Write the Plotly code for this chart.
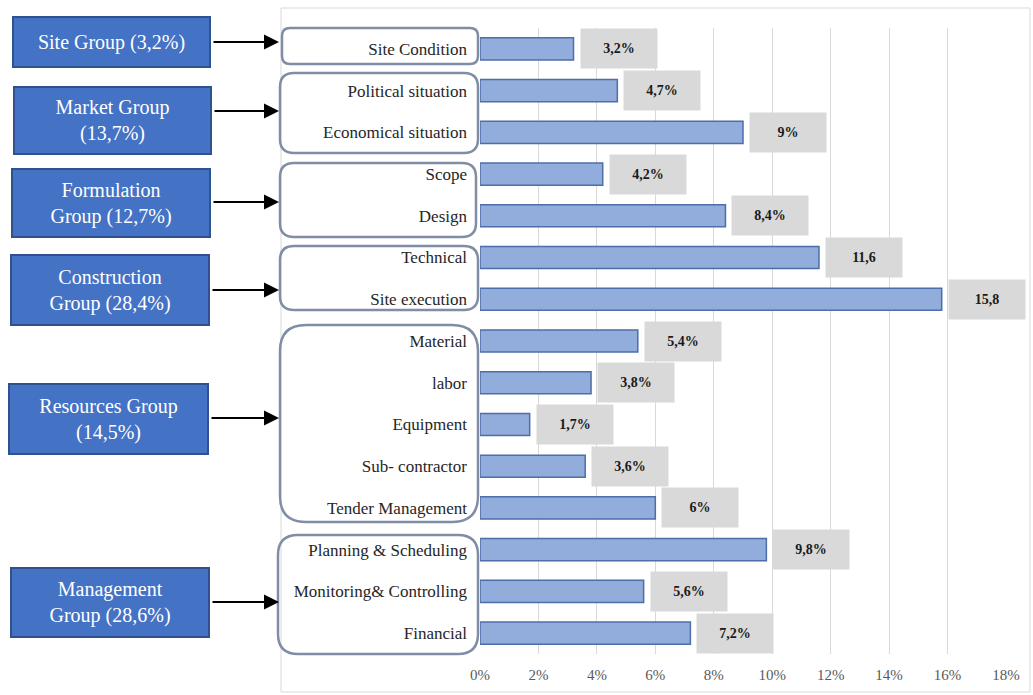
import plotly.graph_objects as go

# Delay factors and their share (%)
factors = [
    "Site Condition", "Political situation", "Economical situation", "Scope", "Design",
    "Technical", "Site execution", "Material", "labor", "Equipment", "Sub- contractor",
    "Tender Management", "Planning & Scheduling", "Monitoring& Controlling", "Financial",
]
shares = [3.2, 4.7, 9.0, 4.2, 8.4, 11.6, 15.8, 5.4, 3.8, 1.7, 3.6, 6.0, 9.8, 5.6, 7.2]
share_labels = ["3,2%", "4,7%", "9%", "4,2%", "8,4%", "11,6", "15,8", "5,4%", "3,8%",
                "1,7%", "3,6%", "6%", "9,8%", "5,6%", "7,2%"]

# Factor groups
group_names = ["Site Group (3,2%)", "Market Group<br>(13,7%)", "Formulation<br>Group (12,7%)",
               "Construction<br>Group (28,4%)", "Resources Group<br>(14,5%)",
               "Management<br>Group (28,6%)"]
x_ticks = [0, 2, 4, 6, 8, 10, 12, 14, 16, 18]
x_tick_text = ["0%", "2%", "4%", "6%", "8%", "10%", "12%", "14%", "16%", "18%"]

W, H = 1033, 695
SERIF = "Liberation Serif, Times New Roman, serif"


def px(x):
    return x / W


def py(y):
    return 1 - y / H


def rounded_rect(x0, y0, x1, y1, r):
    pts = [
        f"M {px(x0 + r)},{py(y0)}",
        f"L {px(x1 - r)},{py(y0)}",
        f"Q {px(x1)},{py(y0)} {px(x1)},{py(y0 + r)}",
        f"L {px(x1)},{py(y1 - r)}",
        f"Q {px(x1)},{py(y1)} {px(x1 - r)},{py(y1)}",
        f"L {px(x0 + r)},{py(y1)}",
        f"Q {px(x0)},{py(y1)} {px(x0)},{py(y1 - r)}",
        f"L {px(x0)},{py(y0 + r)}",
        f"Q {px(x0)},{py(y0)} {px(x0 + r)},{py(y0)}",
        "Z",
    ]
    return " ".join(pts)


fig = go.Figure()
fig.add_trace(go.Bar(
    x=shares, y=factors, orientation="h",
    marker=dict(color="#92acdc", line=dict(color="#4d6ea6", width=1.5)),
    hoverinfo="x+y",
))

annotations = []
# value boxes beside the bars
for f, v, lab in zip(factors, shares, share_labels):
    annotations.append(dict(
        x=v, y=f, xref="x", yref="y", text=f"<b>{lab}</b>", showarrow=False,
        xanchor="left", yanchor="middle", xshift=6, width=74, height=37, bgcolor="#d9d9d9",
        font=dict(family=SERIF, size=14, color="#1a1a1a"), align="center", valign="middle",
    ))

# group boxes (left, top, right, bottom in px)
group_boxes = [(12, 16, 211, 68), (13, 86, 212, 155), (11, 168, 211, 238),
               (10, 254, 210, 326), (8, 383, 209, 455), (10, 567, 210, 638)]
arrow_y = [42, 111, 202, 290, 418, 602]
brackets = [(282, 28, 478, 64, 8), (280, 73, 478, 153, 14), (280, 163, 476, 237, 14),
            (280, 246, 478, 310, 14), (280, 325, 478, 522, 26), (278, 535, 478, 654, 20)]

shapes = [dict(type="rect", xref="paper", yref="paper", x0=px(281), x1=px(1030),
               y0=py(692), y1=py(8), line=dict(color="#d9d9d9", width=1), layer="below")]

ARROW_TIP = 279
for name, (x0, y0, x1, y1), ay in zip(group_names, group_boxes, arrow_y):
    annotations.append(dict(
        x=px((x0 + x1) / 2), y=py((y0 + y1) / 2), xref="paper", yref="paper",
        xanchor="center", yanchor="middle",
        text=name, showarrow=False, width=x1 - x0 - 6, height=y1 - y0 - 6,
        bgcolor="#4472c4", bordercolor="#2f528f", borderwidth=2, borderpad=1,
        font=dict(family=SERIF, size=20, color="white"), align="center", valign="middle",
    ))
    annotations.append(dict(
        x=px(ARROW_TIP), y=py(ay), xref="paper", yref="paper", text="", showarrow=True,
        ax=-(ARROW_TIP - x1 - 1), ay=0, axref="pixel", ayref="pixel",
        arrowhead=2, arrowsize=1.5, arrowwidth=2, arrowcolor="black",
    ))

for (x0, y0, x1, y1, r) in brackets:
    shapes.append(dict(type="path", xref="paper", yref="paper",
                       path=rounded_rect(x0, y0, x1, y1, r),
                       line=dict(color="#7f8ea6", width=2.5)))

fig.update_layout(
    width=W, height=H, autosize=False,
    margin=dict(l=0, r=0, t=0, b=0, autoexpand=False),
    paper_bgcolor="white", plot_bgcolor="white",
    showlegend=False, bargap=0.47,
    xaxis=dict(domain=[px(480), px(1006)], range=[0, 18], tickvals=x_ticks,
               ticktext=x_tick_text, showgrid=True, gridcolor="#d9d9d9", gridwidth=1,
               zeroline=False, showline=False, ticks="", ticklabelstandoff=10,
               tickfont=dict(family=SERIF, size=15, color="#595959")),
    yaxis=dict(domain=[py(654), py(28)], type="category", categoryorder="array",
               categoryarray=factors, range=[14.5, -0.5], showgrid=False, zeroline=False,
               showline=False, ticks="", ticklabelstandoff=12,
               tickfont=dict(family=SERIF, size=17, color="#262626")),
    annotations=annotations, shapes=shapes,
)

fig.write_html("out.html")
